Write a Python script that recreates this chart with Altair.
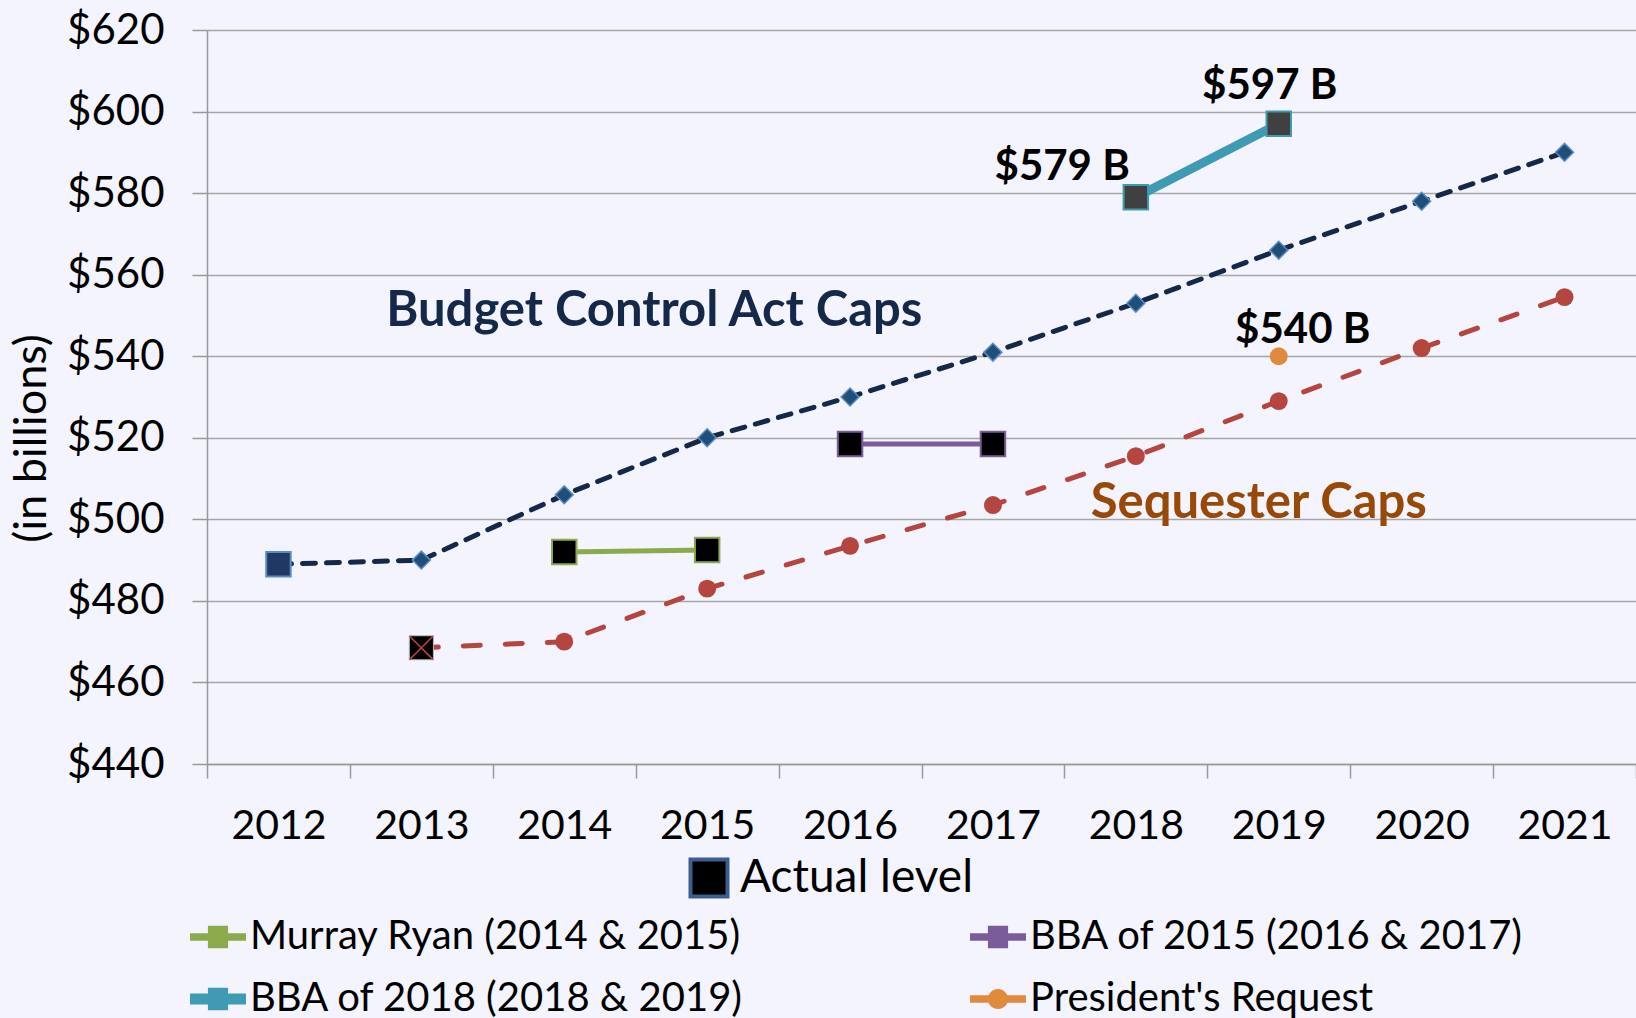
import altair as alt
import pandas as pd

# ---------------- data ----------------
years = ["2012", "2013", "2014", "2015", "2016", "2017", "2018", "2019", "2020", "2021"]
bca_caps = [489, 490, 506, 520, 530, 541, 553, 566, 578, 590]
seq_years = ["2013", "2014", "2015", "2016", "2017", "2018", "2019", "2020", "2021"]
seq_caps = [468.5, 470, 483, 493.5, 503.5, 515.5, 529, 542, 554.5]
murray_years = ["2014", "2015"]
murray_vals = [492, 492.5]
bba15_years = ["2016", "2017"]
bba15_vals = [518.5, 518.5]
bba18_years = ["2018", "2019"]
bba18_vals = [579, 597]
pres_years = ["2019"]
pres_vals = [540]
y_ticks = [440, 460, 480, 500, 520, 540, 560, 580, 600, 620]

# legend entries (listed column by column)
legend_names = ["Murray Ryan (2014 & 2015)", "BBA of 2018 (2018 & 2019)",
                "BBA of 2015 (2016 & 2017)", "President's Request"]
legend_colors = ["#8BAA4B", "#3F9AB3", "#7A5C9B", "#E08A3C"]

FONT = "Lato"
BG = "#F3F4FD"
NAVY = "#14294A"
RED = "#B5463F"

bca = pd.DataFrame({"year": years, "value": bca_caps})
seq = pd.DataFrame({"year": seq_years, "value": seq_caps})
murray = pd.DataFrame({"year": murray_years, "value": murray_vals})
bba15 = pd.DataFrame({"year": bba15_years, "value": bba15_vals})
bba18 = pd.DataFrame({"year": bba18_years, "value": bba18_vals})
pres = pd.DataFrame({"year": pres_years, "value": pres_vals})

x_enc = alt.X(
    "year:N",
    sort=years,
    scale=alt.Scale(type="band", domain=years, paddingInner=0, paddingOuter=0),
    axis=alt.Axis(
        title=None, labelAngle=0, tickBand="extent", grid=False,
        labelFont=FONT, labelFontSize=41, labelColor="black", labelPadding=28,
        tickSize=14, tickColor="#999999", tickWidth=1.5,
        domainColor="#999999", domainWidth=1.5,
    ),
)
y_enc = alt.Y(
    "value:Q",
    scale=alt.Scale(domain=[440, 620], nice=False, zero=False),
    axis=alt.Axis(
        title="(in billions)", values=y_ticks, labelExpr="'$' + datum.value",
        labelFont=FONT, labelFontSize=42, labelColor="black", labelPadding=28,
        tickSize=15, tickColor="#999999", tickWidth=1.5,
        domainColor="#999999", domainWidth=1.5,
        grid=True, gridColor="#A6A6A6", gridWidth=1.5,
        titleFont=FONT, titleFontSize=45, titleFontWeight="normal", titleColor="black",
        titleAngle=270, titleAlign="center", titleBaseline="middle",
        titleX=-176, titleY=408,
    ),
)
enc = dict(x=x_enc, y=y_enc)


def base(df):
    return alt.Chart(df).encode(**enc)


# Budget Control Act caps
bca_line = base(bca).mark_line(color=NAVY, strokeWidth=5, strokeDash=[13, 11], strokeCap="round")
bca_pts = base(bca.iloc[1:]).mark_point(shape="diamond", filled=True, fill="#1F4E79",
                                        stroke="#5B8CC8", strokeWidth=1.5, size=320, opacity=1)
bca_actual = base(bca.iloc[:1]).mark_point(shape="square", filled=True, fill="#1F3864",
                                           stroke="#5B8CC8", strokeWidth=2, size=600, opacity=1)

# Sequester caps
seq_line = base(seq).mark_line(color=RED, strokeWidth=5, strokeDash=[17, 25], strokeCap="round")
seq_pts = base(seq.iloc[1:]).mark_point(shape="circle", filled=True, fill=RED, size=320, opacity=1)
seq_actual = base(seq.iloc[:1]).mark_point(shape="square", filled=True, fill="black",
                                           stroke="#BBBBBB", strokeWidth=1, size=580, opacity=1)
seq_actual_x = base(seq.iloc[:1]).mark_point(shape="M-1,-1L1,1M1,-1L-1,1", filled=False,
                                             stroke=RED, strokeWidth=1.5, size=560, opacity=1)

# Murray Ryan
murray_line = base(murray).mark_line(color="#8BAA4B", strokeWidth=5)
murray_pts = base(murray).mark_point(shape="square", filled=True, fill="black",
                                     stroke="#8BAA4B", strokeWidth=2, size=600, opacity=1)
# BBA 2015
bba15_line = base(bba15).mark_line(color="#7A5C9B", strokeWidth=5)
bba15_pts = base(bba15).mark_point(shape="square", filled=True, fill="black",
                                   stroke="#7A5C9B", strokeWidth=2, size=600, opacity=1)
# BBA 2018
bba18_line = base(bba18).mark_line(color="#3F9AB3", strokeWidth=9)
bba18_pts = base(bba18).mark_point(shape="square", filled=True, fill="#404040",
                                   stroke="#3F9AB3", strokeWidth=2, size=600, opacity=1)
# President's request
pres_pts = base(pres).mark_point(shape="circle", filled=True, fill="#E08A3C", size=320, opacity=1)


# annotations
def note(year, value, label, color, size, dx=0, dy=0, align="center"):
    df = pd.DataFrame({"year": [year], "value": [value], "label": [label]})
    return base(df).mark_text(font=FONT, fontWeight="bold", fontSize=size, color=color,
                              align=align, baseline="middle", dx=dx, dy=dy).encode(text="label:N")


notes = [
    note("2014", 551, "Budget Control Act Caps", NAVY, 49, dx=90),
    note("2019", 504, "Sequester Caps", "#984807", 49, dx=-20),
    note("2018", 579, "$579 B", "black", 42, dx=-6, dy=-30, align="right"),
    note("2019", 597, "$597 B", "black", 42, dx=-9, dy=-38),
    note("2019", 540, "$540 B", "black", 42, dx=24, dy=-26),
]

# legends (invisible carrier points)
legend_paths = [
    "M-1,-0.13H1V0.13H-1Z M-0.36,-0.4H0.36V0.4H-0.36Z",
    "M-1,-0.2H1V0.2H-1Z M-0.36,-0.4H0.36V0.4H-0.36Z",
    "M-1,-0.13H1V0.13H-1Z M-0.36,-0.4H0.36V0.4H-0.36Z",
    "M-1,-0.13H1V0.13H-1Z M0.36,0A0.36,0.36 0 1 1 -0.36,0A0.36,0.36 0 1 1 0.36,0Z",
]
leg_df = pd.DataFrame({"year": ["2012"] * 4, "value": [500] * 4, "series": legend_names})
leg2 = alt.Legend(title=None, orient="none", legendX=-17, legendY=879, columns=2,
                  columnPadding=225, rowPadding=14, labelFont=FONT, labelFontSize=40,
                  labelColor="black", symbolSize=3136, labelOffset=4, padding=0,
                  symbolOpacity=1, symbolStrokeWidth=0, labelLimit=800)
legend_layer = base(leg_df).mark_point(filled=True, opacity=0, size=3136).encode(
    fill=alt.Fill("series:N", scale=alt.Scale(domain=legend_names, range=legend_colors), legend=leg2),
    shape=alt.Shape("series:N", scale=alt.Scale(domain=legend_names, range=legend_paths), legend=leg2),
)

act_df = pd.DataFrame({"year": ["2012"], "value": [500], "kind": ["Actual level"]})
leg1 = alt.Legend(title=None, orient="none", legendX=479, legendY=825, labelFont=FONT,
                  labelFontSize=46, labelColor="black", symbolType="square", symbolSize=1369,
                  symbolStrokeWidth=4, symbolFillColor="black", symbolOpacity=1,
                  labelOffset=8, padding=0, labelLimit=1000)
actual_layer = base(act_df).mark_point(shape="square", filled=True, fill="black", opacity=0,
                                       size=1369, strokeWidth=4).encode(
    stroke=alt.Stroke("kind:N", scale=alt.Scale(domain=["Actual level"], range=["#3A5F8F"]), legend=leg1)
)

chart = alt.layer(
    bca_line, seq_line, murray_line, bba15_line, bba18_line,
    bca_pts, bca_actual, seq_pts, seq_actual, seq_actual_x,
    murray_pts, bba15_pts, bba18_pts, pres_pts,
    *notes, legend_layer, actual_layer,
).resolve_scale(fill="independent", shape="independent", stroke="independent").properties(
    width=1429, height=734,
    autosize=alt.AutoSizeParams(type="none"),
    padding={"left": 207, "top": 30, "right": 0, "bottom": 254},
    background=BG,
).configure_view(stroke=None)

chart.save("out.html", embed_options={"renderer": "svg", "actions": False})
